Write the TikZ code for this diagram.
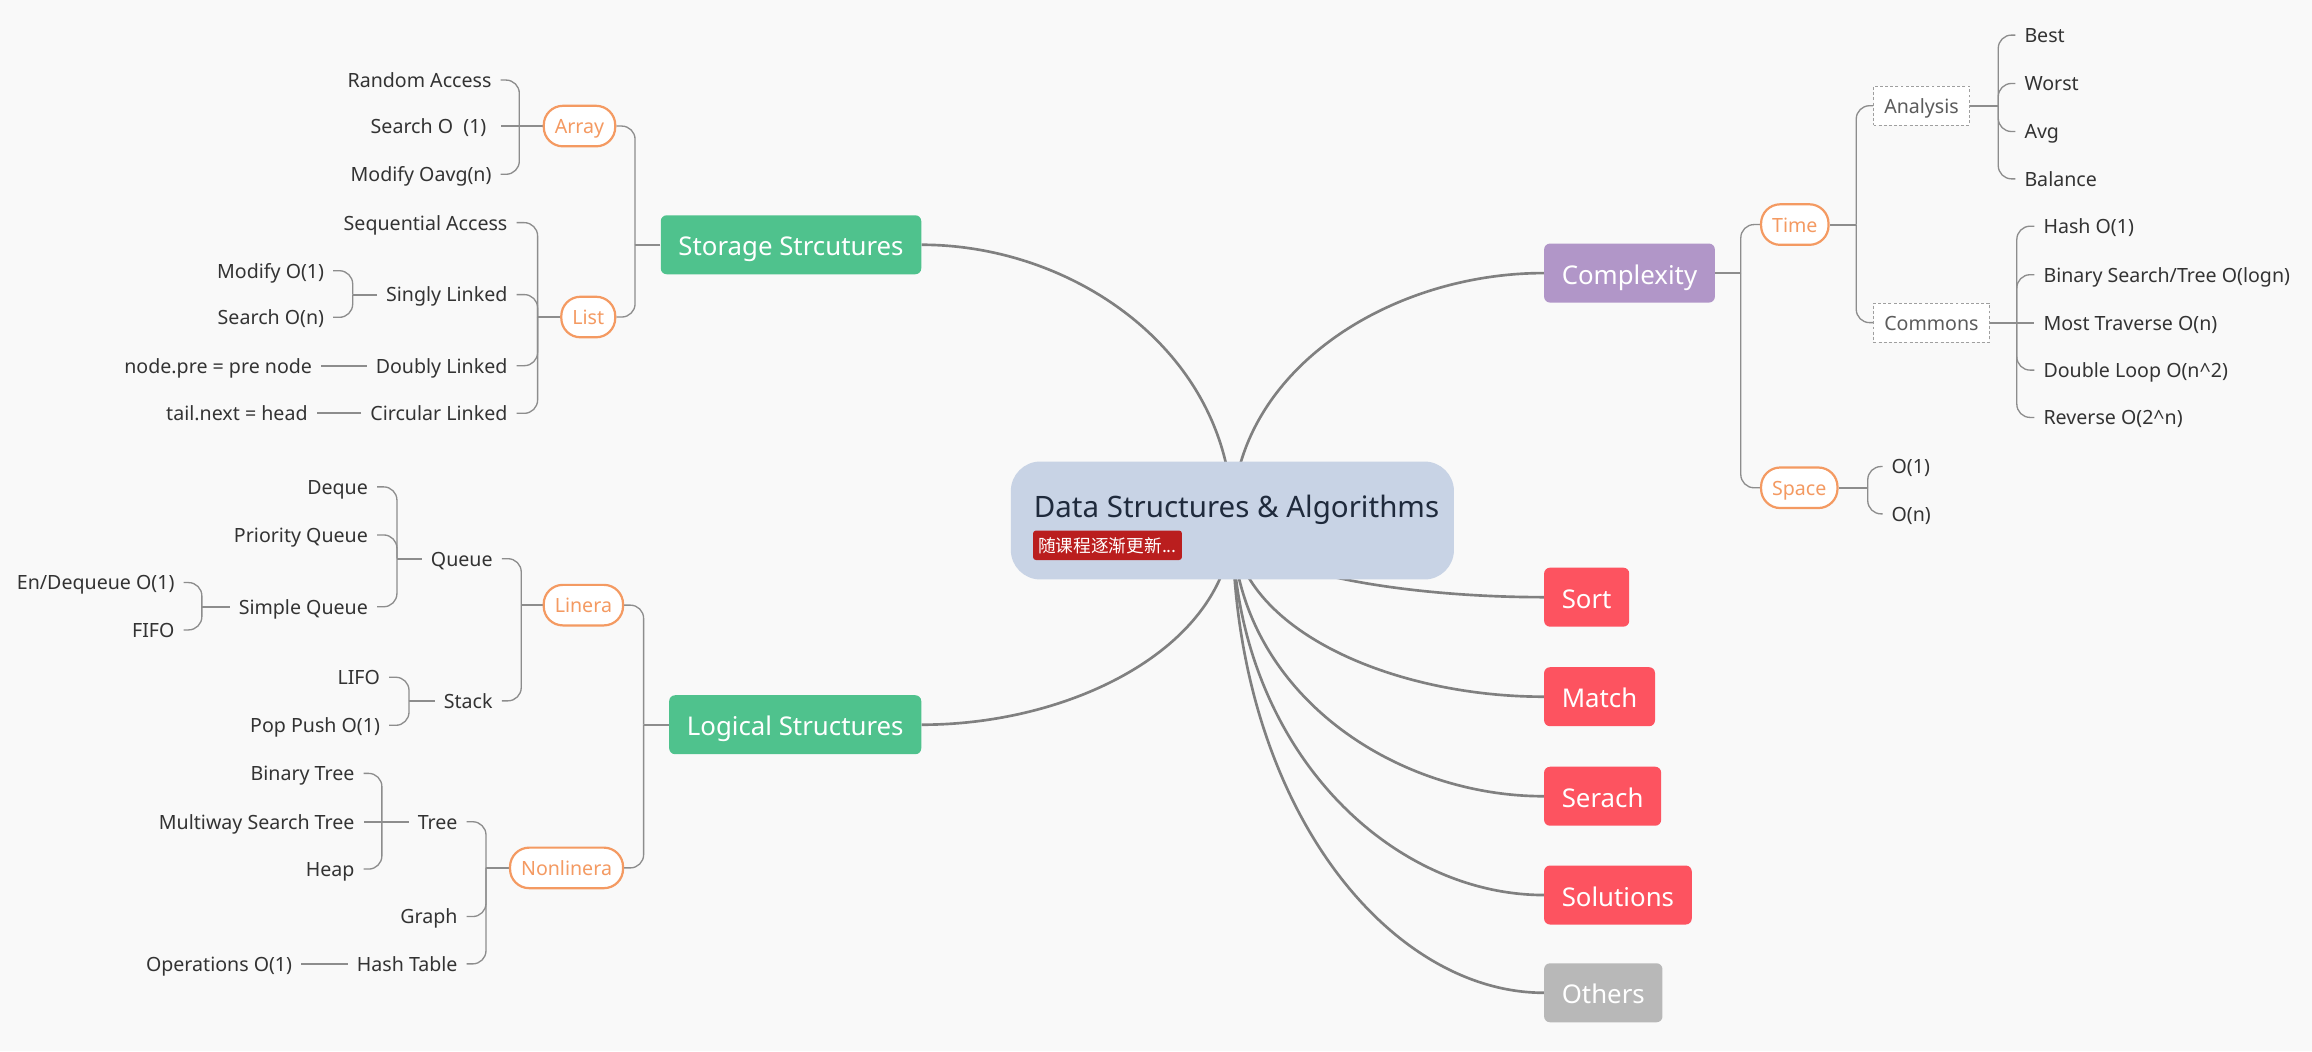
\documentclass[tikz,border=0pt]{standalone}
\usepackage{fontspec}
\setmainfont{Noto Sans}
\newfontfamily\cjkfont{Noto Sans CJK SC}
\usetikzlibrary{backgrounds, calc}

\definecolor{bgcol}{HTML}{F9F9F9}
\definecolor{rootblue}{HTML}{C8D3E5}
\definecolor{titleink}{HTML}{1F2A3C}
\definecolor{tagred}{HTML}{BA1E1E}
\definecolor{topicgreen}{HTML}{4FC28D}
\definecolor{topicpurple}{HTML}{B196C8}
\definecolor{topicred}{HTML}{FD5360}
\definecolor{topicgray}{HTML}{B8B8B8}
\definecolor{suborange}{HTML}{F49A62}
\definecolor{linegray}{HTML}{808080}
\definecolor{leafink}{HTML}{333333}

\newcommand\leaffont{\fontsize{13.3pt}{16pt}\selectfont}

\tikzset{
    topic/.style={rounded corners=4pt, text=white, font=\fontsize{17.5pt}{20pt}\selectfont,
        inner xsep=12pt, inner ysep=12.5pt, text height=15pt, text depth=0pt},
    sub/.style={draw=suborange, line width=1.5pt, fill=white, text=suborange, rounded corners=13pt,
        inner xsep=7.5pt, inner ysep=8.5pt, text height=10.5pt, text depth=0pt, font=\leaffont},
    dashbox/.style={draw=gray!75, line width=0.8pt, dash pattern=on 2pt off 1.5pt, fill=white,
        text=leafink!80, inner xsep=7.3pt, inner ysep=8pt, text height=10.5pt, text depth=0pt, font=\leaffont},
    leaf/.style={text=leafink, inner xsep=6pt, inner ysep=2pt, text height=10pt, text depth=0pt, font=\leaffont},
    lleaf/.style={leaf, anchor=east},
    rleaf/.style={leaf, anchor=west},
    mainline/.style={draw=linegray, line width=1.8pt},
    stub/.style={draw=linegray!90, line width=1.3pt},
    branch/.style={draw=linegray!90, line width=0.9pt, rounded corners=9pt},
    curvy/.style={to path={.. controls ($(\tikztostart)!0.6!(\tikztostart |- \tikztotarget)$)
        and ($(\tikztotarget)!0.5!(\tikztostart |- \tikztotarget)$) .. (\tikztotarget)}}
}

\begin{document}
\begin{tikzpicture}[x=1pt, y=-1pt]
    \useasboundingbox (0,0) rectangle (1568,712.8);

    % Root
    \node[fill=rootblue, rounded corners=20pt, minimum width=300.5pt, minimum height=80pt, inner sep=0pt] (root) at (835.8,353) {};
    \node[font=\fontsize{20pt}{24pt}\selectfont, text=titleink, anchor=west, inner sep=0pt,
        text height=14.3pt, text depth=0pt] (title) at (701,344) {Data Structures \& Algorithms};
    \node[fill=tagred, text=white, rounded corners=2pt, anchor=north west, inner xsep=3.5pt, inner ysep=0pt,
        minimum height=20pt, font=\cjkfont\fontsize{12pt}{14pt}\selectfont] (tag) at (700.4,359.6) {随课程逐渐更新...};

    % Main topics
    \node[topic, fill=topicgreen, anchor=east] (stor) at (625,166) {Storage Strcutures};
    \node[topic, fill=topicgreen, anchor=east] (logi) at (625,491.5) {Logical Structures};
    \node[topic, fill=topicpurple, anchor=west] (cplx) at (1047,185.2) {Complexity};
    \node[topic, fill=topicred, anchor=west] (sort) at (1047,405) {Sort};
    \node[topic, fill=topicred, anchor=west] (match) at (1047,472.5) {Match};
    \node[topic, fill=topicred, anchor=west] (serach) at (1047,540) {Serach};
    \node[topic, fill=topicred, anchor=west] (sol) at (1047,607) {Solutions};
    \node[topic, fill=topicgray, anchor=west] (oth) at (1047,673.3) {Others};

    % Subtopics
    \node[sub, anchor=east] (arr) at (418,85.5) {Array};
    \node[sub, anchor=east] (lst) at (418,215) {List};
    \node[sub, anchor=east] (lin) at (423.3,410.4) {Linera};
    \node[sub, anchor=east] (non) at (423.3,588.6) {Nonlinera};
    \node[sub, anchor=west] (tim) at (1193.6,152.3) {Time};
    \node[sub, anchor=west] (spc) at (1193.6,330.8) {Space};
    \node[dashbox, anchor=west] (ana) at (1270.2,71.7) {Analysis};
    \node[dashbox, anchor=west] (com) at (1270.2,218.8) {Commons};

    % Storage leaves
    \node[lleaf] (ra) at (339.5,54.3) {Random Access};
    \node[lleaf] (so) at (339.5,85.5) {Search O\ \ (1)\ \ };
    \node[lleaf] (mo) at (339.5,118.2) {Modify Oavg(n)};
    \node[lleaf] (sa) at (350.3,151) {Sequential Access};
    \node[lleaf] (sl) at (350.3,199.8) {Singly Linked};
    \node[lleaf] (dl) at (350.3,248) {Doubly Linked};
    \node[lleaf] (cl) at (350.3,280.3) {Circular Linked};
    \node[lleaf] (m1) at (226,183.6) {Modify O(1)};
    \node[lleaf] (sn) at (226,215.2) {Search O(n)};
    \node[lleaf] (np) at (217.8,248) {node.pre = pre node};
    \node[lleaf] (tn) at (214.8,280.3) {tail.next = head};

    % Logical leaves
    \node[lleaf] (que) at (340.3,378.9) {Queue};
    \node[lleaf] (stk) at (340.3,475.3) {Stack};
    \node[lleaf] (deq) at (255.7,330.2) {Deque};
    \node[lleaf] (pq) at (255.7,362.8) {Priority Queue};
    \node[lleaf] (sq) at (255.7,411.5) {Simple Queue};
    \node[lleaf] (enq) at (124.5,395.1) {En/Dequeue O(1)};
    \node[lleaf] (fifo) at (124.5,427.2) {FIFO};
    \node[lleaf] (lifo) at (263.9,459.3) {LIFO};
    \node[lleaf] (pp) at (263.9,491.9) {Pop Push O(1)};
    \node[lleaf] (tre) at (316.5,557.3) {Tree};
    \node[lleaf] (gra) at (316.5,621.6) {Graph};
    \node[lleaf] (ht) at (316.5,653.7) {Hash Table};
    \node[lleaf] (bt) at (246.6,524.5) {Binary Tree};
    \node[lleaf] (ms) at (246.6,557.3) {Multiway Search Tree};
    \node[lleaf] (hp) at (246.6,589.4) {Heap};
    \node[lleaf] (ops) at (204.3,653.7) {Operations O(1)};

    % Complexity leaves
    \node[rleaf] (best) at (1366.8,23.8) {Best};
    \node[rleaf] (worst) at (1366.8,56.6) {Worst};
    \node[rleaf] (avg) at (1366.8,89.2) {Avg};
    \node[rleaf] (bal) at (1366.8,121.3) {Balance};
    \node[rleaf] (hash) at (1379.7,153.4) {Hash O(1)};
    \node[rleaf] (bs) at (1379.7,186.3) {Binary Search/Tree O(logn)};
    \node[rleaf] (mt) at (1379.7,218.8) {Most Traverse O(n)};
    \node[rleaf] (dlp) at (1379.7,251) {Double Loop O(n\textasciicircum 2)};
    \node[rleaf] (rev) at (1379.7,283.1) {Reverse O(2\textasciicircum n)};
    \node[rleaf] (o1) at (1276.7,316.4) {O(1)};
    \node[rleaf] (on) at (1276.7,348.5) {O(n)};

    % Spine junctions
    \coordinate (jstor) at (430.7,166);
    \coordinate (jarr) at (352.2,85.5);
    \coordinate (jlst) at (364.6,215);
    \coordinate (jsl) at (239.2,199.8);
    \coordinate (jlogi) at (436.5,491.5);
    \coordinate (jlin) at (353.5,410.4);
    \coordinate (jque) at (269.2,378.9);
    \coordinate (jsq) at (136.9,411.5);
    \coordinate (jstk) at (277.4,475.3);
    \coordinate (jnon) at (329.6,588.6);
    \coordinate (jtre) at (259,557.3);
    \coordinate (jcplx) at (1180.6,185.2);
    \coordinate (jtim) at (1258.9,152.3);
    \coordinate (jana) at (1355.2,71.7);
    \coordinate (jcom) at (1367.8,218.8);
    \coordinate (jspc) at (1266.7,330.8);

    % Connectors
    \begin{scope}[on background layer]
        \fill[bgcol] (0,0) rectangle (1568,712.8);
        \foreach \t in {stor,logi}
            \draw[mainline] (root.center) to[curvy] (\t.east);
        \foreach \t in {cplx,sort,match,serach,sol,oth}
            \draw[mainline] (root.center) to[curvy] (\t.west);
        \foreach \p/\j in {stor/jstor, arr/so.east, lst/jlst, sl/jsl, dl/np.east, cl/tn.east,
                logi/jlogi, lin/jlin, que/jque, sq/jsq, stk/jstk, non/jnon, tre/ms.east, ht/ops.east}
            \draw[stub] (\p.west) -- (\j);
        \foreach \p/\j in {cplx/jcplx, tim/jtim, ana/jana, com/mt.west, spc/jspc}
            \draw[stub] (\p.east) -- (\j);
        \foreach \j/\c in {jstor/arr, jstor/lst, jarr/ra, jarr/mo, jlst/sa, jlst/sl, jlst/dl, jlst/cl,
                jsl/m1, jsl/sn, jlogi/lin, jlogi/non, jlin/que, jlin/stk, jque/deq, jque/pq, jque/sq,
                jsq/enq, jsq/fifo, jstk/lifo, jstk/pp, jnon/tre, jnon/gra, jnon/ht, jtre/bt, jtre/hp}
            \draw[branch] (\j) |- (\c.east);
        \foreach \j/\c in {jcplx/tim, jcplx/spc, jtim/ana, jtim/com, jana/best, jana/worst, jana/avg,
                jana/bal, jcom/hash, jcom/bs, jcom/dlp, jcom/rev, jspc/o1, jspc/on}
            \draw[branch] (\j) |- (\c.west);
    \end{scope}

\end{tikzpicture}
\end{document}
